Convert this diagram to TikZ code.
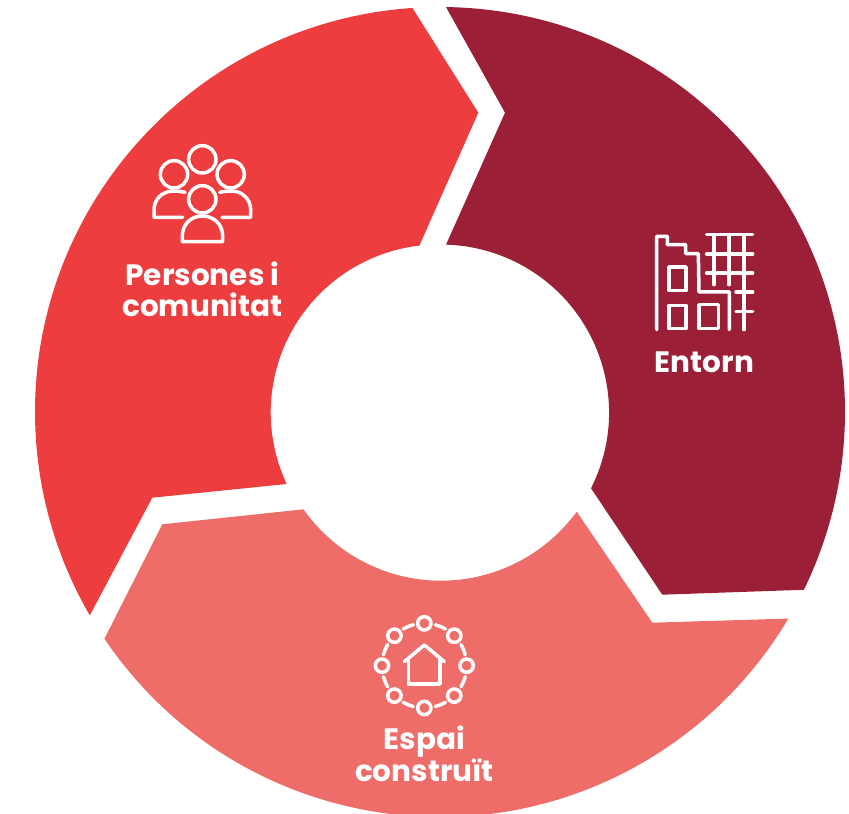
\documentclass[tikz,border=0pt]{standalone}
\usepackage{fontspec}
\setmainfont{Poppins}
\definecolor{cred}{HTML}{EE3D3E}
\definecolor{cmaroon}{HTML}{9C1F38}
\definecolor{cpink}{HTML}{EE6D68}
\tikzset{
  icon/.style={draw=white,line width=3.5pt,line cap=round,line join=round},
  lab/.style={text=white,font=\bfseries\fontsize{29.5}{29.5}\selectfont,anchor=base,inner sep=0pt},
}
\begin{document}
\begin{tikzpicture}[x=1pt,y=1pt]
\useasboundingbox (0,0) rectangle (849,814);
\coordinate (c) at (440,402);
% y-up coordinates = 814 - image y
\fill[cred] (c) ++(93.9:405) arc[start angle=93.9,end angle=210.15,radius=405]
  -- (152.3,316.3) -- (286.7,330) 
  arc[start angle=205.2,end angle=96.6,radius=168] -- (478.3,701.3) -- cycle;
\fill[cmaroon] (c) ++(89.15:405) arc[start angle=89.15,end angle=-26.04,radius=405]
  -- (662.3,219.3) -- (591,325.7)
  arc[start angle=-26.8,end angle=88.3,radius=168] -- (505,701.3) -- cycle;
\fill[cpink] (c) ++(214.05:405) arc[start angle=214.05,end angle=329.33,radius=405]
  -- (652.3,191.3) -- (576.7,302.3)
  arc[start angle=-36.1,end angle=-144.9,radius=168] -- (162.3,289.7) -- cycle;

% People icon (zoom-crop coordinates)
\begin{scope}[shift={(130,684)},yscale=-1,scale=1/3]
  \draw[icon] (217,88) circle[radius=41];
  \draw[icon] (132,133) circle[radius=41];
  \draw[icon] (302,133) circle[radius=41];
  \draw[icon] (217,208) circle[radius=41];
  \draw[icon] (158,262) -- (72,262) -- (72,240) .. controls (72,205) and (100,183) .. (130,183) .. controls (143,183) and (155,185) .. (165,187);
  \draw[icon] (276,262) -- (362,262) -- (362,240) .. controls (362,205) and (334,183) .. (304,183) .. controls (291,183) and (279,185) .. (269,187);
  \draw[icon] (157,335) -- (157,318) .. controls (157,283) and (183,258) .. (217,258) .. controls (251,258) and (278,283) .. (278,318) -- (278,335) -- cycle;
\end{scope}

% Building icon
\begin{scope}[shift={(650,586)},yscale=-1,scale=1/3]
  \draw[icon] (20,305) -- (20,25) -- (52,25) -- (52,50) -- (107,50) -- (107,77) -- (145,77) -- (147,192) -- (238,192) -- (238,305);
  \draw[icon] (57,117) rectangle (108,188);
  \draw[icon] (57,232) rectangle (108,302);
  \draw[icon] (147,230) rectangle (205,302);
  \foreach \yy in {20,78,135} \draw[icon] (170,\yy) -- (308,\yy);
  \foreach \yy in {192,250} \draw[icon] (258,\yy) -- (308,\yy);
  \foreach \xx in {192,237} \draw[icon] (\xx,20) -- (\xx,170);
  \draw[icon] (282,20) -- (282,305);
\end{scope}

% House-network icon
\begin{scope}[shift={(345,209)},yscale=-1,scale=1/3]
  \coordinate (h) at (238,182);
  \foreach \a in {0,45,...,315} {
    \draw[icon] (h) ++(\a:127) circle[radius=20];
    \draw[icon] (h) ++(\a+15:127) arc[start angle=\a+15,end angle=\a+30,radius=127];
  }
  \draw[icon] (178,170) -- (238,120) -- (298,170);
  \draw[icon] (190,160) -- (190,237) -- (285,237) -- (285,160);
\end{scope}

\node[lab] (p1) at (202.5,528) {Persones i};
\node[lab] (p2) at (202.5,497.3) {comunitat};
\node[lab] (e1) at (704.5,441.3) {Entorn};
\node[lab] (s1) at (424.5,64) {Espai};
\node[lab] (s2) at (424.5,32.3) {construït};
\end{tikzpicture}
\end{document}
